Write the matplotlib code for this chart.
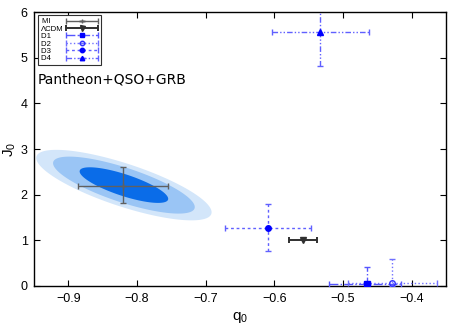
import numpy as np
import matplotlib
matplotlib.use("Agg")
import matplotlib.pyplot as plt
from matplotlib.container import ErrorbarContainer
from matplotlib.legend_handler import HandlerErrorbar

plt.rcParams['font.family'] = ['Liberation Sans', 'DejaVu Sans']
plt.rcParams['mathtext.fontset'] = 'custom'
plt.rcParams['mathtext.rm'] = 'Liberation Sans'
plt.rcParams['mathtext.it'] = 'Liberation Sans'

# points: q0, J0 with asymmetric errors (minus, plus)
labels = ["MI", "\u039bCDM", "D1", "D2", "D3", "D4"]
q0 = [-0.820, -0.558, -0.465, -0.428, -0.609, -0.533]
q0_lo = [0.066, 0.020, 0.055, 0.065, 0.063, 0.071]
q0_hi = [0.065, 0.020, 0.050, 0.065, 0.063, 0.071]
j0 = [2.20, 1.00, 0.04, 0.06, 1.28, 5.56]
j0_lo = [0.38, 0.0, 0.04, 0.06, 0.51, 0.74]
j0_hi = [0.40, 0.0, 0.38, 0.53, 0.51, 0.74]

# confidence region (Pantheon+QSO+GRB)
ctr_q, ctr_j = -0.819, 2.21
sig_q, sig_j, rho = 0.0645, 0.39, -0.77
levels = [1.98, 1.60, 1.0]
fill_colors = ['#d3e6fa', '#9ac5f5', '#0a6ce8']

fig = plt.figure(figsize=(4.63, 3.26), dpi=100)
ax = fig.add_axes([0.0734, 0.1227, 0.8896, 0.8403])

cov = np.array([[sig_q**2, rho*sig_q*sig_j], [rho*sig_q*sig_j, sig_j**2]])
L = np.linalg.cholesky(cov)
t = np.linspace(0, 2*np.pi, 300)
circ = np.vstack([np.cos(t), np.sin(t)])
for k, c in zip(levels, fill_colors):
    pts = k * (L @ circ)
    ax.fill(ctr_q + pts[0], ctr_j + pts[1], color=c, lw=0, zorder=1)

styles = [
    dict(color='#606060', ecolor='#606060', marker='+', ms=4, ls='-', lw=1.0, mfc='#606060'),
    dict(color='#303030', ecolor='#303030', marker='v', ms=4.5, ls='-', lw=1.4, mfc='#303030'),
    dict(color='#0000ff', ecolor='#5555ff', marker='s', ms=4, ls='-.', lw=1.0, mfc='#0000ff'),
    dict(color='#3030ff', ecolor='#7070ff', marker='o', ms=4, ls=':', lw=1.0, mfc='none'),
    dict(color='#0000ff', ecolor='#6060ff', marker='o', ms=4, ls=(0, (2, 2)), lw=1.0, mfc='#0000ff'),
    dict(color='#0000ff', ecolor='#6060ff', marker='^', ms=4, ls=(0, (4, 1.5, 1, 1.5, 1, 1.5)), lw=1.0, mfc='#0000ff'),
]

# pad labels with spaces so the handles line up (text left, handle right)
leg_fs = 5.6
renderer = fig.canvas.get_renderer()
def text_w(s):
    tt = fig.text(0, 0, s, fontsize=leg_fs)
    w = tt.get_window_extent(renderer).width
    tt.remove()
    return w
wmax = max(text_w(s) for s in labels)
padded = []
for s in labels:
    p = s
    while text_w(p + ' ') <= wmax + 0.6:
        p += ' '
    padded.append(p)

handles = []
for i, lab in enumerate(padded):
    st = styles[i]
    eb = ax.errorbar(q0[i], j0[i],
                     xerr=[[q0_lo[i]], [q0_hi[i]]],
                     yerr=[[j0_lo[i]], [j0_hi[i]]] if j0_hi[i] > 0 else None,
                     fmt=st['marker'], ms=st['ms'], color=st['color'], mfc=st['mfc'],
                     mec=st['color'], ecolor=st['ecolor'], elinewidth=st['lw'],
                     capsize=2.5, capthick=st['lw'], label=lab, zorder=3)
    for col in eb[2]:
        col.set_linestyle(st['ls'])
    handles.append(eb)

ax.set_xlim(-0.95, -0.35)
ax.set_ylim(0, 6)
ax.set_xticks([-0.9, -0.8, -0.7, -0.6, -0.5, -0.4])
ax.set_yticks([0, 1, 2, 3, 4, 5, 6])
ax.tick_params(direction='in', top=True, right=True, length=4, width=0.8,
               labelsize=9, pad=5)
ax.tick_params(axis='y', pad=4.5)
for s in ax.spines.values():
    s.set_linewidth(1.0)

ax.set_xlabel('q$_0$', fontsize=11, labelpad=4)
ax.set_ylabel('J$_0$', fontsize=11, labelpad=2)

ax.text(-0.944, 4.44, 'Pantheon+QSO+GRB', fontsize=10, family='DejaVu Sans')

leg = ax.legend(handles=handles, loc='upper left', bbox_to_anchor=(0.0095, 0.989),
                fontsize=leg_fs, handlelength=4.3, handletextpad=0.25, labelspacing=0.0,
                borderpad=0.35, borderaxespad=0.0, frameon=True, fancybox=False,
                edgecolor='#303030', framealpha=1, numpoints=1, markerfirst=False,
                markerscale=0.8,
                handler_map={ErrorbarContainer: HandlerErrorbar(xerr_size=2.1, yerr_size=0)})
leg.get_frame().set_linewidth(0.8)

fig.savefig('out.png', dpi=100)
